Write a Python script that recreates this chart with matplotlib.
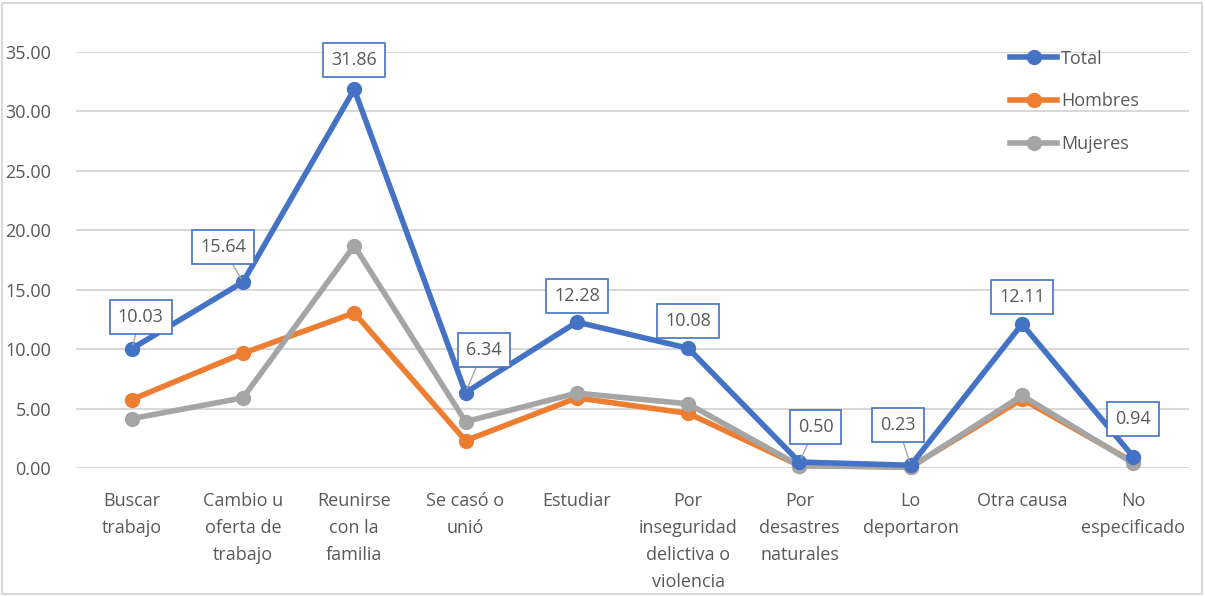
import matplotlib
matplotlib.use("Agg")
import matplotlib.pyplot as plt
from matplotlib.patches import Rectangle

categories = ["Buscar\ntrabajo", "Cambio u\noferta de\ntrabajo", "Reunirse\ncon la\nfamilia",
              "Se casó o\nunió", "Estudiar", "Por\ninseguridad\ndelictiva o\nviolencia",
              "Por\ndesastres\nnaturales", "Lo\ndeportaron", "Otra causa", "No\nespecificado"]
total = [10.03, 15.64, 31.86, 6.34, 12.28, 10.08, 0.50, 0.23, 12.11, 0.94]
hombres = [5.75, 9.65, 13.05, 2.3, 5.9, 4.6, 0.2, 0.1, 5.8, 0.5]
mujeres = [4.15, 5.9, 18.7, 3.9, 6.3, 5.4, 0.2, 0.05, 6.1, 0.4]
series_names = ["Total", "Hombres", "Mujeres"]
yticks = [0, 5, 10, 15, 20, 25, 30, 35]

colors = ["#4472C4", "#ED7D31", "#A5A5A5"]
txt = "#595959"
plt.rcParams["font.family"] = ["Open Sans", "DejaVu Sans"]

W, H = 1205, 596
fig = plt.figure(figsize=(W / 100, H / 100), dpi=100)
ax = fig.add_axes([76 / W, (H - 468) / H, 1113 / W, 416 / H])

x = list(range(len(categories)))
for vals, name, c, z in [(total, series_names[0], colors[0], 5),
                         (hombres, series_names[1], colors[1], 3),
                         (mujeres, series_names[2], colors[2], 4)]:
    ax.plot(x, vals, color=c, lw=4, marker="o", ms=10, label=name,
            solid_joinstyle="round", clip_on=False, zorder=z)

ax.set_xlim(-0.5, len(categories) - 0.5)
ax.set_ylim(0, 35)
ax.set_yticks(yticks)
ax.set_yticklabels([f"{v:.2f}" for v in yticks])
ax.set_xticks(x)
ax.set_xticklabels(categories, linespacing=1.66, va="top")
ax.tick_params(axis="both", length=0, labelsize=13, labelcolor=txt)
ax.tick_params(axis="x", pad=17)
ax.tick_params(axis="y", pad=18)
ax.grid(axis="y", color="#D9D9D9", lw=1.5)
ax.set_axisbelow(True)
for s in ax.spines.values():
    s.set_visible(False)

# data-label offsets in pixels (layout only)
offsets = [(9, 32), (-20, 35), (0, 29), (18, 43), (0, 26), (0, 27),
           (16, 35), (-13, 40), (0, 27), (0, 38)]
for i, v in enumerate(total):
    dx, dy = offsets[i]
    arrow = dict(arrowstyle="-", color="#A5A5A5", lw=1, shrinkA=0, shrinkB=3) if dx != 0 else None
    ax.annotate(f"{v:.2f}", xy=(i, v), xytext=(dx, dy), textcoords="offset pixels",
                ha="center", va="center", fontsize=13, color=txt,
                bbox=dict(boxstyle="square,pad=0.45", fc="white", ec=colors[0], lw=1.2),
                arrowprops=arrow, zorder=10, annotation_clip=False)

leg = ax.legend(loc="upper left", bbox_to_anchor=((994 - 76) / 1113, 1.045), frameon=False,
                fontsize=13, handlelength=2.6, labelspacing=1.38, handletextpad=0.2,
                labelcolor=txt)

fig.add_artist(Rectangle((2 / W, 2 / H), (W - 5) / W, (H - 5) / H, transform=fig.transFigure,
                         fill=False, ec="#D9D9D9", lw=1.5))
fig.savefig("out.png", dpi=100)
